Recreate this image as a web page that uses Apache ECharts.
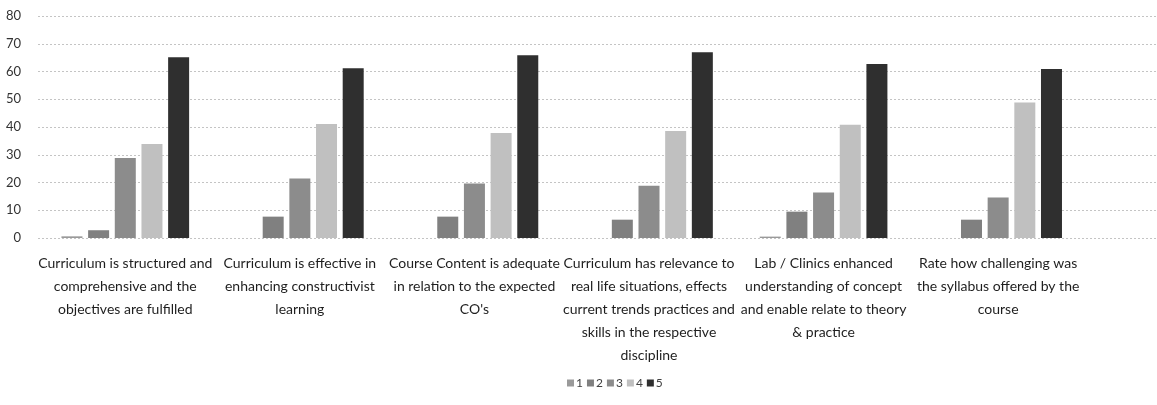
<!DOCTYPE html>
<html>
<head>
<meta charset="utf-8">
<script src="https://cdn.jsdelivr.net/npm/echarts@6/dist/echarts.min.js"></script>
<style>
  html, body { margin: 0; padding: 0; background: #fff; }
  #chart { width: 1157px; height: 405px; }
</style>
</head>
<body>
<div id="chart"></div>
<script>
// categories (line breaks as in the original), last one is an empty slot cut off at the edge
const categories = [
  "Curriculum is structured and\ncomprehensive and the\nobjectives are fulfilled",
  "Curriculum is effective in\nenhancing constructivist\nlearning",
  "Course Content is adequate\nin relation to the expected\nCO's",
  "Curriculum has relevance to\nreal life situations, effects\ncurrent trends practices and\nskills in the respective\ndiscipline",
  "Lab / Clinics enhanced\nunderstanding of concept\nand enable relate to theory\n& practice",
  "Rate how challenging was\nthe syllabus offered by the\ncourse",
  ""
];
const seriesNames = ["1", "2", "3", "4", "5"];
const rating1 = [0.6, 0, 0, 0, 0.5, 0];
const rating2 = [2.8, 7.7, 7.7, 6.6, 9.5, 6.6];
const rating3 = [28.8, 21.4, 19.6, 18.8, 16.4, 14.6];
const rating4 = [33.9, 41.1, 37.8, 38.6, 40.8, 48.8];
const rating5 = [65.1, 61.2, 65.9, 66.9, 62.7, 60.9];
const yTicks = { min: 0, max: 80, interval: 10 };

const colors = ["#9a9a9a", "#808080", "#8c8c8c", "#c0c0c0", "#2f2f2f"];
const font = "Lato, sans-serif";

const allValues = [rating1, rating2, rating3, rating4, rating5];

const option = {
  animation: false,
  textStyle: { fontFamily: font },
  grid: { left: 38, top: 16, height: 222, width: 1222, outerBoundsMode: "none", containLabel: false },
  legend: {
    data: seriesNames,
    left: 562,
    top: 372,
    itemWidth: 7,
    itemHeight: 7,
    itemGap: 4,
    icon: "rect",
    textStyle: { fontSize: 12, color: "#404040", fontFamily: font, padding: [0, 0, 0, -3] }
  },
  xAxis: {
    type: "category",
    data: categories,
    axisLine: { show: false },
    axisTick: { show: false },
    axisLabel: {
      interval: 0,
      margin: 14,
      fontSize: 14,
      lineHeight: 23,
      color: "#1e1e1e",
      fontFamily: font
    }
  },
  yAxis: {
    type: "value",
    min: yTicks.min,
    max: yTicks.max,
    interval: yTicks.interval,
    axisLine: { show: false },
    axisTick: { show: false },
    axisLabel: { fontSize: 13, color: "#333333", margin: 17, fontFamily: font },
    splitLine: { lineStyle: { color: "#c4c4c4", type: [2, 2], width: 1 } }
  },
  series: seriesNames.map((name, i) => ({
    name: name,
    type: "bar",
    data: allValues[i],
    barWidth: 21,
    barGap: "27%",
    itemStyle: { color: colors[i] }
  }))
};

const myChart = echarts.init(document.getElementById("chart"));
myChart.setOption(option);
</script>
</body>
</html>
